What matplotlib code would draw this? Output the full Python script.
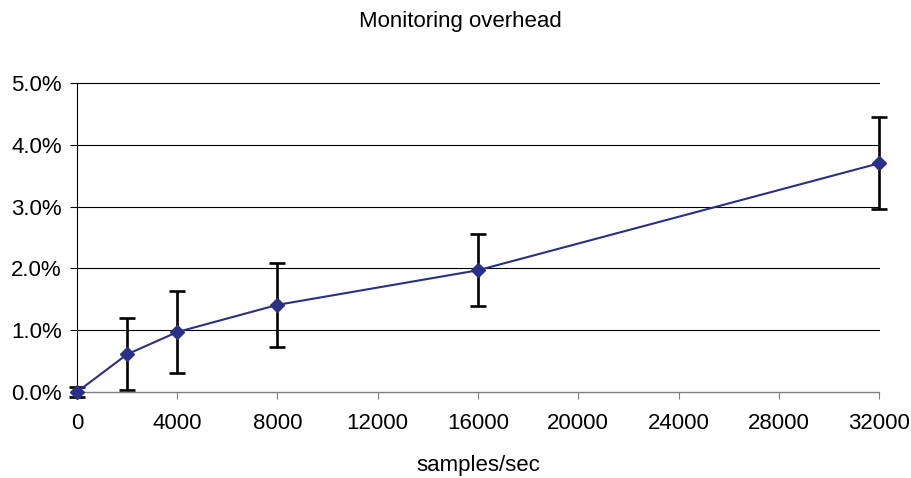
import matplotlib
matplotlib.use("Agg")
import matplotlib.pyplot as plt
from matplotlib.ticker import FuncFormatter

plt.rcParams['font.family'] = ['Liberation Sans', 'DejaVu Sans']

samples = [0, 2000, 4000, 8000, 16000, 32000]
overhead = [0.0, 0.61, 0.97, 1.41, 1.97, 3.70]
err = [0.08, 0.58, 0.66, 0.68, 0.585, 0.745]
xticks = [0, 4000, 8000, 12000, 16000, 20000, 24000, 28000, 32000]
yticks = [0, 1, 2, 3, 4, 5]

fig = plt.figure(figsize=(9.12, 4.78), dpi=100)
ax = fig.add_axes([77/912, (478-392)/478, (879-77)/912, (392-83)/478])

for y in yticks[1:]:
    ax.axhline(y, color='black', lw=0.8, zorder=1)

ax.errorbar(samples, overhead, yerr=err, fmt='none', ecolor='black',
            elinewidth=1.9, capsize=5.5, capthick=1.9, zorder=2)
ax.plot(samples, overhead, color='#2b2f86', lw=1.5, marker='D',
        markersize=7.5, markerfacecolor='#2b2f86', markeredgecolor='#2b2f86', zorder=3)

ax.set_xlim(0, 32000)
ax.set_ylim(0, 5)
ax.set_xticks(xticks)
ax.set_yticks(yticks)
ax.yaxis.set_major_formatter(FuncFormatter(lambda v, p: f"{v:.1f}%"))
ax.tick_params(axis='both', direction='out', length=5, labelsize=16, width=0.8)
ax.tick_params(axis='x', color='#808080', pad=10)
ax.tick_params(axis='y', pad=6)
for s in ['top', 'right']:
    ax.spines[s].set_visible(False)
ax.spines['bottom'].set_color('#808080')
ax.spines['bottom'].set_linewidth(1.0)
ax.spines['left'].set_linewidth(0.8)
for a in ax.get_children():
    try:
        a.set_clip_on(False)
    except Exception:
        pass

ax.set_xlabel('samples/sec', fontsize=16, labelpad=15)
fig.text(460/912, 1 - 21/478, 'Monitoring overhead', ha='center', va='center', fontsize=16)

fig.savefig('out.png', dpi=100)
